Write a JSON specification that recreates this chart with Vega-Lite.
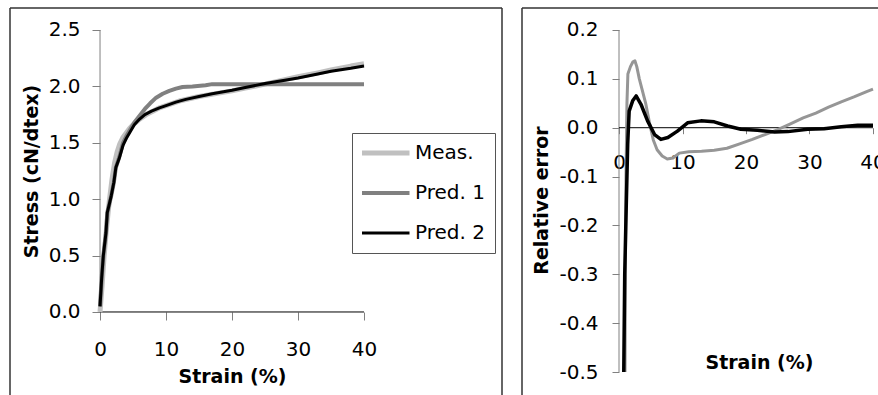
{
"$schema":"https://vega.github.io/schema/vega-lite/v6.json",
"padding":{"left":9,"top":7,"right":0,"bottom":0},
"spacing":20,
"bounds":"flush",
"config":{
 "view":{"stroke":null},
 "font":"DejaVu Sans",
 "axis":{"grid":false,"domain":false,"labelFont":"DejaVu Sans","titleFont":"DejaVu Sans","labelFontSize":20,"titleFontSize":19,"titleFontWeight":"bold","labelColor":"#000","titleColor":"#000","tickColor":"#808080","tickWidth":1,"labelFlush":false,"labelOverlap":false}
},
"datasets":{
 "one":[{}],
 "stress":[
  {"strain":0,"stress":0,"series":"Meas."},{"strain":0.3,"stress":0.22,"series":"Meas."},{"strain":0.6,"stress":0.48,"series":"Meas."},{"strain":1.0,"stress":0.75,"series":"Meas."},{"strain":1.4,"stress":0.98,"series":"Meas."},{"strain":1.8,"stress":1.17,"series":"Meas."},{"strain":2.2,"stress":1.32,"series":"Meas."},{"strain":2.6,"stress":1.42,"series":"Meas."},{"strain":3.0,"stress":1.49,"series":"Meas."},{"strain":3.5,"stress":1.55,"series":"Meas."},{"strain":4.0,"stress":1.59,"series":"Meas."},{"strain":4.5,"stress":1.63,"series":"Meas."},{"strain":5,"stress":1.66,"series":"Meas."},{"strain":6,"stress":1.71,"series":"Meas."},{"strain":7,"stress":1.75,"series":"Meas."},{"strain":8,"stress":1.78,"series":"Meas."},{"strain":9,"stress":1.81,"series":"Meas."},{"strain":10,"stress":1.83,"series":"Meas."},{"strain":12,"stress":1.87,"series":"Meas."},{"strain":15,"stress":1.91,"series":"Meas."},{"strain":18,"stress":1.94,"series":"Meas."},{"strain":20,"stress":1.96,"series":"Meas."},{"strain":22,"stress":1.985,"series":"Meas."},{"strain":25,"stress":2.02,"series":"Meas."},{"strain":28,"stress":2.06,"series":"Meas."},{"strain":30,"stress":2.085,"series":"Meas."},{"strain":33,"stress":2.12,"series":"Meas."},{"strain":35,"stress":2.145,"series":"Meas."},{"strain":38,"stress":2.18,"series":"Meas."},{"strain":40,"stress":2.2,"series":"Meas."},
  {"strain":0,"stress":0.05,"series":"Pred. 1"},{"strain":0.25,"stress":0.3,"series":"Pred. 1"},{"strain":0.5,"stress":0.5,"series":"Pred. 1"},{"strain":0.9,"stress":0.7,"series":"Pred. 1"},{"strain":1.1,"stress":0.88,"series":"Pred. 1"},{"strain":1.3,"stress":0.93,"series":"Pred. 1"},{"strain":1.7,"stress":1.03,"series":"Pred. 1"},{"strain":2.1,"stress":1.15,"series":"Pred. 1"},{"strain":2.4,"stress":1.28,"series":"Pred. 1"},{"strain":2.9,"stress":1.37,"series":"Pred. 1"},{"strain":3.5,"stress":1.5,"series":"Pred. 1"},{"strain":4.0,"stress":1.56,"series":"Pred. 1"},{"strain":4.6,"stress":1.62,"series":"Pred. 1"},{"strain":5.2,"stress":1.68,"series":"Pred. 1"},{"strain":6.0,"stress":1.74,"series":"Pred. 1"},{"strain":6.8,"stress":1.8,"series":"Pred. 1"},{"strain":7.6,"stress":1.85,"series":"Pred. 1"},{"strain":8.5,"stress":1.9,"series":"Pred. 1"},{"strain":9.5,"stress":1.935,"series":"Pred. 1"},{"strain":10.5,"stress":1.96,"series":"Pred. 1"},{"strain":11.5,"stress":1.98,"series":"Pred. 1"},{"strain":12.5,"stress":1.995,"series":"Pred. 1"},{"strain":14,"stress":2.0,"series":"Pred. 1"},{"strain":16,"stress":2.01,"series":"Pred. 1"},{"strain":17,"stress":2.02,"series":"Pred. 1"},{"strain":25,"stress":2.02,"series":"Pred. 1"},{"strain":40,"stress":2.02,"series":"Pred. 1"},
  {"strain":0,"stress":0.05,"series":"Pred. 2"},{"strain":0.25,"stress":0.3,"series":"Pred. 2"},{"strain":0.5,"stress":0.5,"series":"Pred. 2"},{"strain":0.9,"stress":0.7,"series":"Pred. 2"},{"strain":1.1,"stress":0.88,"series":"Pred. 2"},{"strain":1.3,"stress":0.93,"series":"Pred. 2"},{"strain":1.7,"stress":1.03,"series":"Pred. 2"},{"strain":2.1,"stress":1.15,"series":"Pred. 2"},{"strain":2.4,"stress":1.28,"series":"Pred. 2"},{"strain":2.9,"stress":1.36,"series":"Pred. 2"},{"strain":3.5,"stress":1.48,"series":"Pred. 2"},{"strain":4.0,"stress":1.54,"series":"Pred. 2"},{"strain":4.6,"stress":1.6,"series":"Pred. 2"},{"strain":5.2,"stress":1.66,"series":"Pred. 2"},{"strain":6.0,"stress":1.71,"series":"Pred. 2"},{"strain":6.8,"stress":1.75,"series":"Pred. 2"},{"strain":7.8,"stress":1.78,"series":"Pred. 2"},{"strain":9,"stress":1.81,"series":"Pred. 2"},{"strain":10,"stress":1.83,"series":"Pred. 2"},{"strain":11.5,"stress":1.86,"series":"Pred. 2"},{"strain":13,"stress":1.885,"series":"Pred. 2"},{"strain":15,"stress":1.91,"series":"Pred. 2"},{"strain":17,"stress":1.935,"series":"Pred. 2"},{"strain":20,"stress":1.965,"series":"Pred. 2"},{"strain":22,"stress":1.99,"series":"Pred. 2"},{"strain":25,"stress":2.025,"series":"Pred. 2"},{"strain":28,"stress":2.055,"series":"Pred. 2"},{"strain":30,"stress":2.075,"series":"Pred. 2"},{"strain":33,"stress":2.11,"series":"Pred. 2"},{"strain":35,"stress":2.135,"series":"Pred. 2"},{"strain":38,"stress":2.16,"series":"Pred. 2"},{"strain":40,"stress":2.18,"series":"Pred. 2"}
 ],
 "err":[
  {"strain":0.95,"error":-0.5,"series":"Pred. 1"},{"strain":1.0,"error":-0.3,"series":"Pred. 1"},{"strain":1.1,"error":-0.1,"series":"Pred. 1"},{"strain":1.25,"error":0.05,"series":"Pred. 1"},{"strain":1.4,"error":0.11,"series":"Pred. 1"},{"strain":1.8,"error":0.125,"series":"Pred. 1"},{"strain":2.2,"error":0.135,"series":"Pred. 1"},{"strain":2.5,"error":0.137,"series":"Pred. 1"},{"strain":2.8,"error":0.125,"series":"Pred. 1"},{"strain":3.2,"error":0.1,"series":"Pred. 1"},{"strain":3.6,"error":0.08,"series":"Pred. 1"},{"strain":4.2,"error":0.05,"series":"Pred. 1"},{"strain":4.8,"error":0.01,"series":"Pred. 1"},{"strain":5.4,"error":-0.025,"series":"Pred. 1"},{"strain":6,"error":-0.045,"series":"Pred. 1"},{"strain":6.8,"error":-0.058,"series":"Pred. 1"},{"strain":7.6,"error":-0.064,"series":"Pred. 1"},{"strain":8.5,"error":-0.062,"series":"Pred. 1"},{"strain":9.5,"error":-0.052,"series":"Pred. 1"},{"strain":11,"error":-0.049,"series":"Pred. 1"},{"strain":13,"error":-0.048,"series":"Pred. 1"},{"strain":15,"error":-0.046,"series":"Pred. 1"},{"strain":17,"error":-0.042,"series":"Pred. 1"},{"strain":19,"error":-0.033,"series":"Pred. 1"},{"strain":21,"error":-0.024,"series":"Pred. 1"},{"strain":23,"error":-0.014,"series":"Pred. 1"},{"strain":25,"error":-0.004,"series":"Pred. 1"},{"strain":27,"error":0.008,"series":"Pred. 1"},{"strain":29,"error":0.02,"series":"Pred. 1"},{"strain":31,"error":0.03,"series":"Pred. 1"},{"strain":33,"error":0.042,"series":"Pred. 1"},{"strain":35,"error":0.053,"series":"Pred. 1"},{"strain":37,"error":0.063,"series":"Pred. 1"},{"strain":39,"error":0.074,"series":"Pred. 1"},{"strain":40,"error":0.079,"series":"Pred. 1"},
  {"strain":0.75,"error":-0.5,"series":"Pred. 2"},{"strain":0.9,"error":-0.3,"series":"Pred. 2"},{"strain":1.1,"error":-0.184,"series":"Pred. 2"},{"strain":1.37,"error":-0.034,"series":"Pred. 2"},{"strain":1.6,"error":0.034,"series":"Pred. 2"},{"strain":2.15,"error":0.055,"series":"Pred. 2"},{"strain":2.7,"error":0.065,"series":"Pred. 2"},{"strain":3.46,"error":0.048,"series":"Pred. 2"},{"strain":4.5,"error":0.014,"series":"Pred. 2"},{"strain":5.6,"error":-0.014,"series":"Pred. 2"},{"strain":6.6,"error":-0.024,"series":"Pred. 2"},{"strain":7.7,"error":-0.02,"series":"Pred. 2"},{"strain":9.2,"error":-0.007,"series":"Pred. 2"},{"strain":10.8,"error":0.01,"series":"Pred. 2"},{"strain":12.9,"error":0.014,"series":"Pred. 2"},{"strain":15,"error":0.012,"series":"Pred. 2"},{"strain":17.1,"error":0.0035,"series":"Pred. 2"},{"strain":19.2,"error":-0.003,"series":"Pred. 2"},{"strain":21.8,"error":-0.005,"series":"Pred. 2"},{"strain":24.5,"error":-0.009,"series":"Pred. 2"},{"strain":26.6,"error":-0.008,"series":"Pred. 2"},{"strain":29.7,"error":-0.003,"series":"Pred. 2"},{"strain":32.3,"error":-0.002,"series":"Pred. 2"},{"strain":35,"error":0.002,"series":"Pred. 2"},{"strain":37.6,"error":0.005,"series":"Pred. 2"},{"strain":40,"error":0.005,"series":"Pred. 2"}
 ]
},
"resolve":{"scale":{"x":"independent","y":"independent","color":"independent","strokeWidth":"independent"}},
"hconcat":[
 {
  "width":492,"height":388,
  "layer":[
   {"data":{"name":"one"},"mark":{"type":"rule","color":"#333","strokeWidth":1.5},"encoding":{"x":{"datum":-13.64,"type":"quantitative"},"y":{"datum":-0.745,"type":"quantitative"},"y2":{"datum":2.695}}},
   {"data":{"name":"one"},"mark":{"type":"rule","color":"#333","strokeWidth":1.5},"encoding":{"x":{"datum":60.91,"type":"quantitative"},"y":{"datum":-0.745,"type":"quantitative"},"y2":{"datum":2.695}}},
   {"data":{"name":"one"},"mark":{"type":"rule","color":"#333","strokeWidth":1.5},"encoding":{"y":{"datum":2.695,"type":"quantitative"},"x":{"datum":-13.64,"type":"quantitative"},"x2":{"datum":60.91}}},
   {"data":{"name":"one"},"mark":{"type":"rule","color":"#808080","strokeWidth":1},"encoding":{"x":{"datum":0,"type":"quantitative"},"y":{"datum":0,"type":"quantitative"},"y2":{"datum":2.5}}},
   {"data":{"name":"one"},"mark":{"type":"rule","color":"#000","strokeWidth":1},"encoding":{"y":{"datum":0,"type":"quantitative"},"x":{"datum":0,"type":"quantitative"},"x2":{"datum":40}}},
   {"data":{"name":"stress"},
    "mark":{"type":"line","strokeJoin":"round"},
    "encoding":{
     "x":{"field":"strain","type":"quantitative","scale":{"domain":[-13.64,60.91],"nice":false,"zero":false},
          "axis":{"values":[0,10,20,30,40],"offset":-84,"tickSize":8,"labelPadding":29,"labelBaseline":"middle","title":"Strain (%)","titleX":222,"titleY":64,"titleBaseline":"middle","titleAlign":"center"}},
     "y":{"field":"stress","type":"quantitative","scale":{"domain":[-0.745,2.695],"nice":false,"zero":false},
          "axis":{"values":[0,0.5,1,1.5,2,2.5],"format":".1f","offset":-90,"tickSize":8,"labelPadding":12,"title":"Stress (cN/dtex)","titleX":-69,"titleY":163,"titleBaseline":"middle","titleAlign":"center"}},
     "color":{"field":"series","type":"nominal","scale":{"domain":["Meas.","Pred. 1","Pred. 2"],"range":["#c0c0c0","#808080","#000000"]},
          "legend":{"orient":"none","legendX":342,"legendY":125,"title":null,"symbolType":"stroke","symbolSize":2500,"symbolOffset":-5,"clipHeight":20,"labelFontSize":20,"labelFont":"DejaVu Sans","labelColor":"#000","labelOffset":3,"padding":10,"rowPadding":20,"strokeColor":"#555","fillColor":"#fff"}},
     "strokeWidth":{"field":"series","type":"nominal","scale":{"domain":["Meas.","Pred. 1","Pred. 2"],"range":[5,3,3.5]},
          "legend":{"orient":"none","legendX":342,"legendY":125,"title":null,"symbolType":"stroke","symbolSize":2500,"symbolOffset":-5,"clipHeight":20,"labelFontSize":20,"labelFont":"DejaVu Sans","labelColor":"#000","labelOffset":3,"padding":10,"rowPadding":20,"strokeColor":"#555","fillColor":"#fff"}}
    }
   }
  ]
 },
 {
  "width":357,"height":388,
  "layer":[
   {"data":{"name":"one"},"mark":{"type":"rule","color":"#333","strokeWidth":1.5},"encoding":{"x":{"datum":-15.276,"type":"quantitative"},"y":{"datum":-0.5491,"type":"quantitative"},"y2":{"datum":0.245}}},
   {"data":{"name":"one"},"mark":{"type":"rule","color":"#333","strokeWidth":1.5},"encoding":{"y":{"datum":0.245,"type":"quantitative"},"x":{"datum":-15.276,"type":"quantitative"},"x2":{"datum":40.945}}},
   {"data":{"name":"one"},"mark":{"type":"rule","color":"#808080","strokeWidth":1},"encoding":{"x":{"datum":0,"type":"quantitative"},"y":{"datum":-0.5,"type":"quantitative"},"y2":{"datum":0.2}}},
   {"data":{"name":"one"},"mark":{"type":"rule","color":"#000","strokeWidth":1},"encoding":{"y":{"datum":0,"type":"quantitative"},"x":{"datum":0,"type":"quantitative"},"x2":{"datum":40}}},
   {"data":{"name":"err"},
    "mark":{"type":"line","strokeJoin":"round"},
    "encoding":{
     "x":{"field":"strain","type":"quantitative","scale":{"domain":[-15.276,40.945],"nice":false,"zero":false},
          "axis":{"values":[0,10,20,30,40],"labelExpr":"datum.value == 40 ? '' : datum.label","offset":-268.3,"tickSize":6,"labelPadding":29,"labelBaseline":"middle","title":"Strain (%)","titleX":237,"titleY":235,"titleBaseline":"middle","titleAlign":"center"}},
     "y":{"field":"error","type":"quantitative","scale":{"domain":[-0.5491,0.245],"nice":false,"zero":false},
          "axis":{"values":[-0.5,-0.4,-0.3,-0.2,-0.1,0,0.1,0.2],"labelExpr":"replace(format(datum.value, '.1f'), '\u2212', '-')","offset":-97,"tickSize":7,"labelPadding":14,"title":"Relative error","titleX":-78,"titleY":192,"titleBaseline":"middle","titleAlign":"center"}},
     "color":{"field":"series","type":"nominal","scale":{"domain":["Pred. 1","Pred. 2"],"range":["#969696","#000000"]},"legend":null},
     "strokeWidth":{"field":"series","type":"nominal","scale":{"domain":["Pred. 1","Pred. 2"],"range":[3,3.5]},"legend":null}
    }
   },
   {"data":{"name":"one"},"mark":{"type":"text","clip":true,"fontSize":20,"font":"DejaVu Sans","align":"center","baseline":"middle","color":"#000"},
    "encoding":{"x":{"datum":40,"type":"quantitative"},"y":{"datum":-0.0723,"type":"quantitative"},"text":{"value":"40"}}}
  ]
 }
]
}
